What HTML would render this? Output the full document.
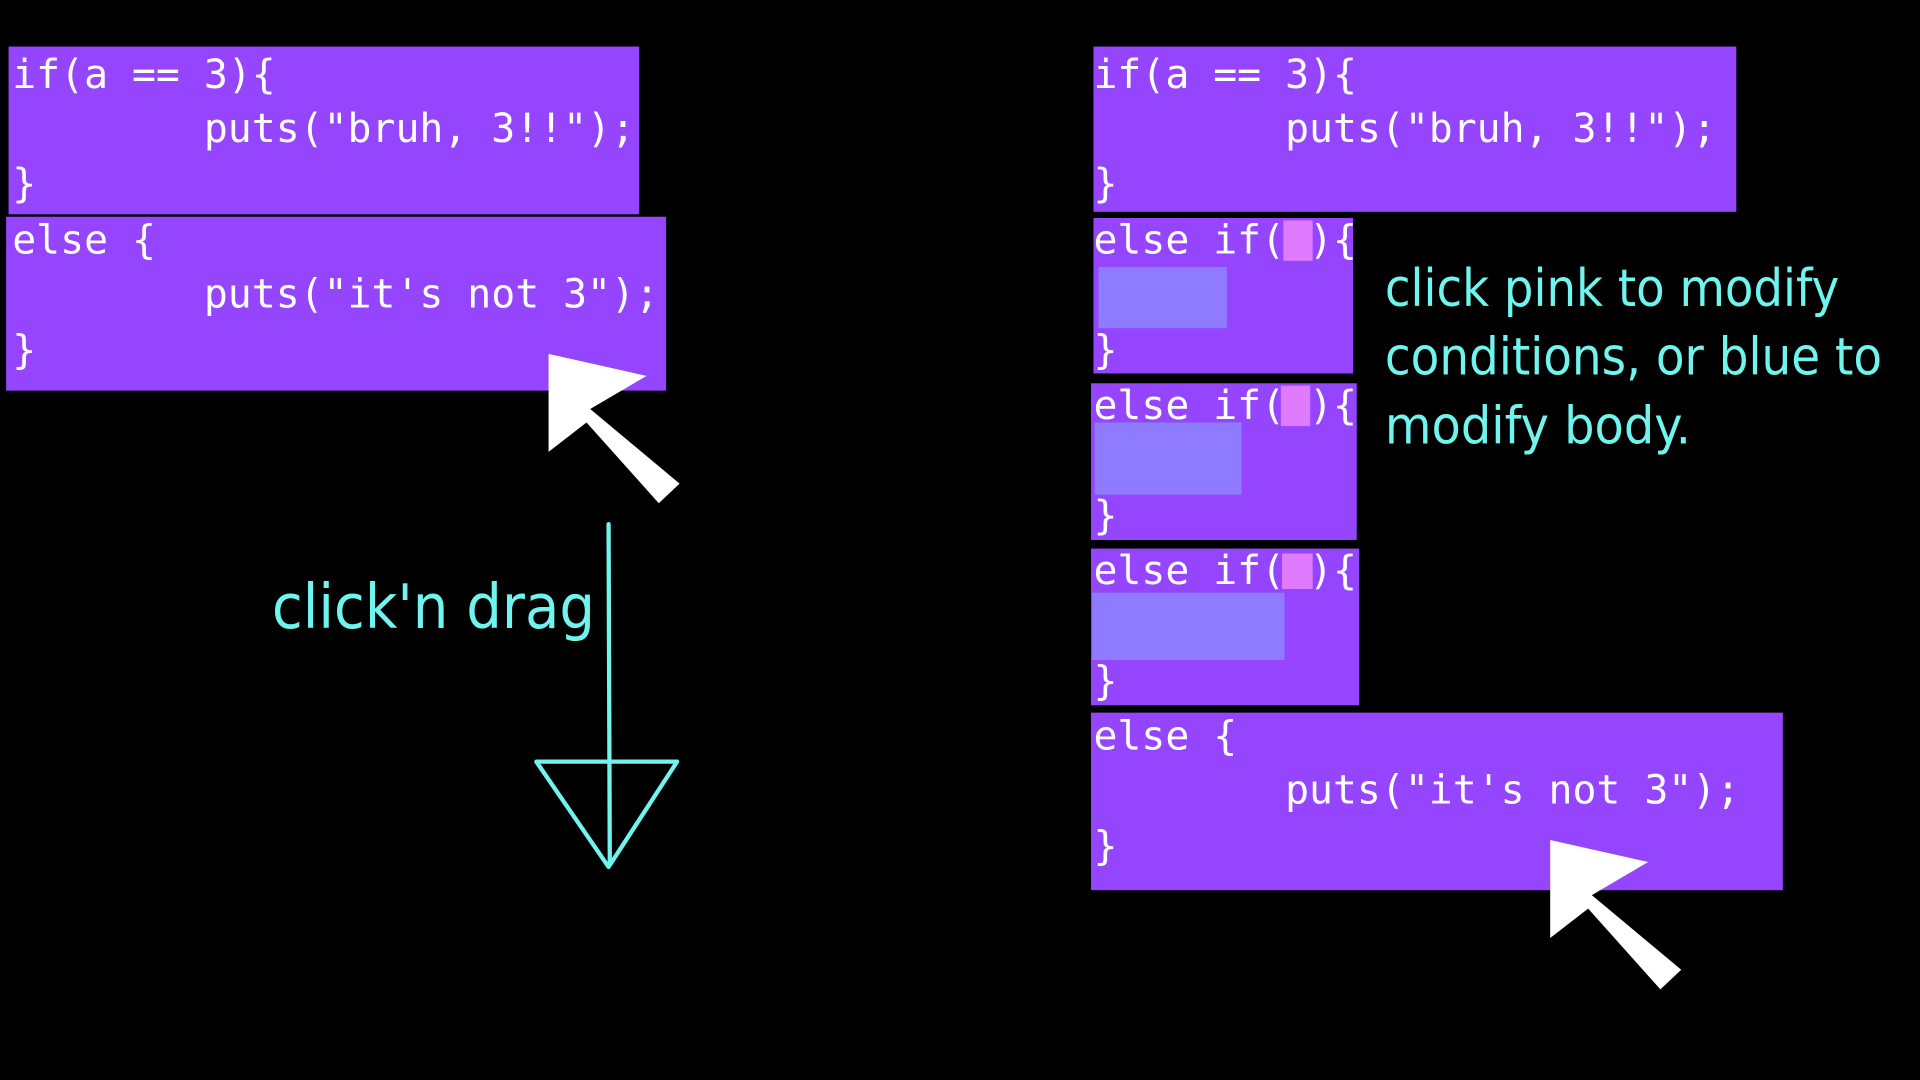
<!DOCTYPE html>
<html><head><meta charset="utf-8"><style>
html,body{margin:0;padding:0;background:#000;width:1920px;height:1080px;overflow:hidden}
svg{display:block}
.m{font-family:"DejaVu Sans Mono","Liberation Mono",monospace;font-size:32.5px;fill:#fff;white-space:pre}
.s{font-family:"DejaVu Sans","Liberation Sans",sans-serif;fill:#6ff4ee}
</style></head><body>
<svg width="1920" height="1080" viewBox="0 0 1568 882" xmlns="http://www.w3.org/2000/svg">
<rect width="1568" height="882" fill="#000"/>
<!-- left -->
<rect x="7" y="38" width="515" height="137" fill="#9445fd"/>
<rect x="5" y="177" width="539" height="142" fill="#9445fd"/>
<text class="m" x="10" y="72" xml:space="preserve">if(a == 3){</text>
<text class="m" x="10" y="116" xml:space="preserve">        puts("bruh, 3!!");</text>
<text class="m" x="10" y="161" xml:space="preserve">}</text>
<text class="m" x="10" y="207" xml:space="preserve">else {</text>
<text class="m" x="10" y="251" xml:space="preserve">        puts("it's not 3");</text>
<text class="m" x="10" y="297" xml:space="preserve">}</text>
<polygon points="448,289 528,307 482,334 555,395 538,411 479,345 448,369" fill="#fff"/>
<line x1="497" y1="428" x2="498" y2="706" stroke="#6ff4ee" stroke-width="3.5" stroke-linecap="round"/>
<polygon points="438,622 553,622 497,708" fill="none" stroke="#6ff4ee" stroke-width="3.5" stroke-linejoin="round"/>
<text class="s" x="222" y="513" font-size="50" textLength="264" lengthAdjust="spacingAndGlyphs">click'n drag</text>
<!-- right -->
<rect x="893" y="38" width="525" height="135" fill="#9445fd"/>
<text class="m" x="893" y="72" xml:space="preserve">if(a == 3){</text>
<text class="m" x="893" y="116" xml:space="preserve">        puts("bruh, 3!!");</text>
<text class="m" x="893" y="161" xml:space="preserve">}</text>

<rect x="893" y="178" width="212" height="127" fill="#9445fd"/>
<rect x="1048" y="180" width="24" height="33" fill="#e07bff"/>
<rect x="897" y="218" width="105" height="50" fill="#8f7bff"/>
<text class="m" x="893" y="207" xml:space="preserve">else if( ){</text>
<text class="m" x="893" y="297" xml:space="preserve">}</text>

<rect x="891" y="313" width="217" height="128" fill="#9445fd"/>
<rect x="1046" y="315" width="24" height="33" fill="#e07bff"/>
<rect x="894" y="345" width="120" height="59" fill="#8f7bff"/>
<text class="m" x="893" y="342" xml:space="preserve">else if( ){</text>
<text class="m" x="893" y="432" xml:space="preserve">}</text>

<rect x="891" y="448" width="219" height="128" fill="#9445fd"/>
<rect x="1047" y="452" width="25" height="29" fill="#e07bff"/>
<rect x="892" y="484" width="157" height="55" fill="#8f7bff"/>
<text class="m" x="893" y="477" xml:space="preserve">else if( ){</text>
<text class="m" x="893" y="567" xml:space="preserve">}</text>

<rect x="891" y="582" width="565" height="145" fill="#9445fd"/>
<text class="m" x="893" y="612" xml:space="preserve">else {</text>
<text class="m" x="893" y="656" xml:space="preserve">        puts("it's not 3");</text>
<text class="m" x="893" y="702" xml:space="preserve">}</text>
<polygon points="1266,686 1346,704 1300,731 1373,792 1356,808 1297,742 1266,766" fill="#fff"/>

<text class="s" x="1131" y="250" font-size="42" textLength="371" lengthAdjust="spacingAndGlyphs">click pink to modify</text>
<text class="s" x="1131" y="306" font-size="42" textLength="406" lengthAdjust="spacingAndGlyphs">conditions, or blue to</text>
<text class="s" x="1131" y="362" font-size="42" textLength="250" lengthAdjust="spacingAndGlyphs">modify body.</text>
</svg>
</body></html>
